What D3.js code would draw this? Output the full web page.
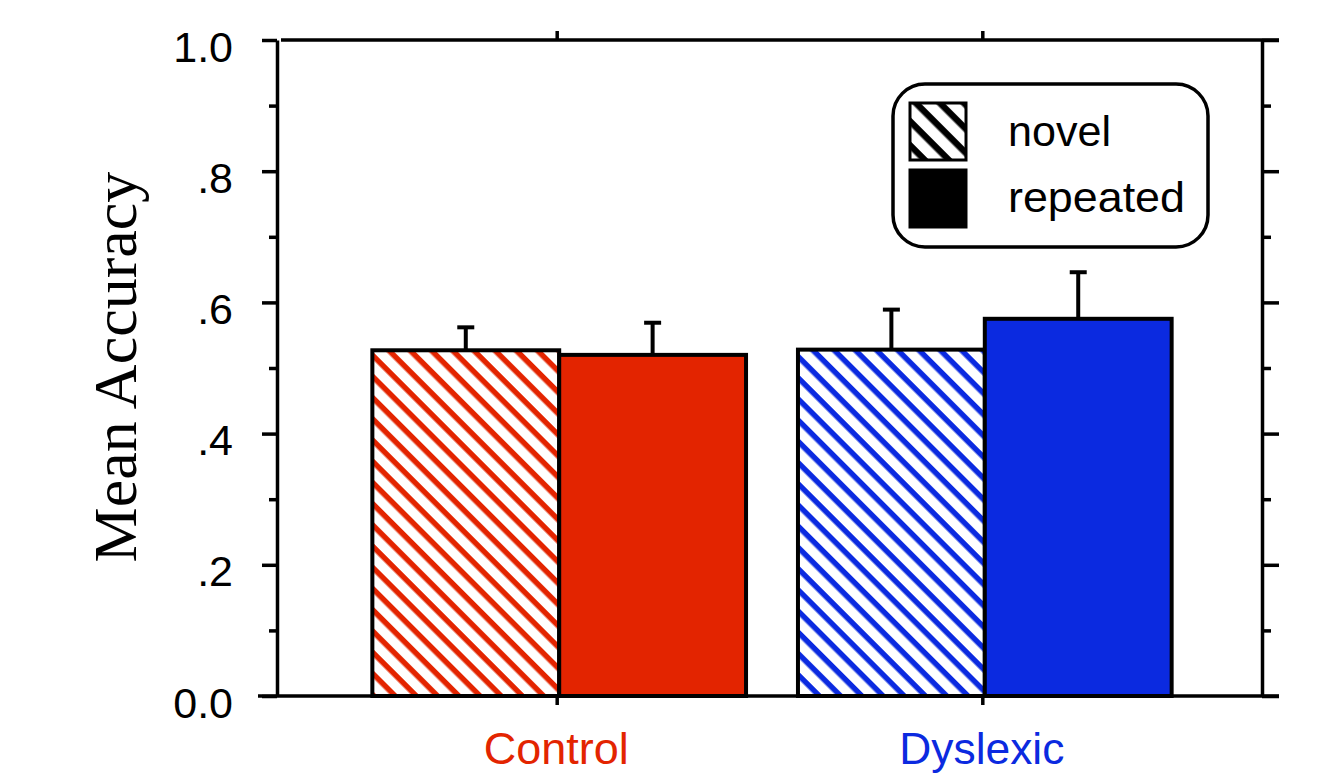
<!DOCTYPE html>
<html>
<head>
<meta charset="utf-8">
<script src="https://cdn.jsdelivr.net/npm/d3@7"></script>
<style>
  html, body { margin: 0; padding: 0; background: #fff; }
  svg { display: block; }
</style>
</head>
<body>
<svg id="chart" width="1327" height="773"></svg>
<script>
// Mean accuracy per group and condition, with standard errors (upper bars only)
const groups = ["Control", "Dyslexic"];
const conditions = ["novel", "repeated"];
const controlMeans = [0.527, 0.520];
const dyslexicMeans = [0.528, 0.575];
const controlErrors = [0.035, 0.049];
const dyslexicErrors = [0.061, 0.071];
const groupColors = ["#e32400", "#0b2ae0"];
const yTickValues = [0, 0.2, 0.4, 0.6, 0.8, 1.0];
const yTickLabels = ["0.0", ".2", ".4", ".6", ".8", "1.0"];
const yMinorValues = [0.1, 0.3, 0.5, 0.7, 0.9];

const meansByGroup = [controlMeans, dyslexicMeans];
const errorsByGroup = [controlErrors, dyslexicErrors];
const rows = [];
groups.forEach((g, gi) => {
  conditions.forEach((c, ci) => {
    rows.push({ group: g, condition: c, mean: meansByGroup[gi][ci], err: errorsByGroup[gi][ci], color: groupColors[gi], gi });
  });
});

const svg = d3.select("#chart");
const plotLeft = 277, plotRight = 1262, plotTop = 40, plotBottom = 696;
const sansFont = "'Liberation Sans', Arial, Helvetica, sans-serif";
const axisWidth = 3.5;

const y = d3.scaleLinear().domain([0, 1]).range([plotBottom, plotTop]);
const x = d3.scaleBand().domain(groups).range([plotLeft + 3, plotRight + 2]).paddingInner(0.122).paddingOuter(0.217);
const xSub = d3.scaleBand().domain(conditions).range([0, x.bandwidth()]);

// Diagonal hatch fills
const defs = svg.append("defs");
function hatch(id, color, period, width) {
  const p = defs.append("pattern")
    .attr("id", id)
    .attr("patternUnits", "userSpaceOnUse")
    .attr("width", period).attr("height", period)
    .attr("patternTransform", "rotate(45)");
  p.append("rect").attr("width", period).attr("height", period).attr("fill", "#fff");
  p.append("rect").attr("x", 0).attr("y", 0).attr("width", period).attr("height", width).attr("fill", color);
}
groupColors.forEach((c, i) => hatch("hatch" + i, c, 15, 5.5));
hatch("hatchLegend", "#000", 17, 6.5);

// Bars
const barG = svg.append("g");
barG.selectAll("rect.bar")
  .data(rows)
  .join("rect")
  .attr("class", "bar")
  .attr("x", d => x(d.group) + xSub(d.condition))
  .attr("y", d => y(d.mean))
  .attr("width", xSub.bandwidth())
  .attr("height", d => y(0) - y(d.mean))
  .attr("fill", d => d.condition === "novel" ? `url(#hatch${d.gi})` : d.color)
  .attr("stroke", "#000")
  .attr("stroke-width", 4);

// Error bars
const capHalf = 8.5;
const errG = svg.append("g").attr("stroke", "#000").attr("stroke-width", 4);
rows.forEach(d => {
  const cx = x(d.group) + xSub(d.condition) + xSub.bandwidth() / 2;
  errG.append("line").attr("x1", cx).attr("x2", cx).attr("y1", y(d.mean)).attr("y2", y(d.mean + d.err));
  errG.append("line").attr("x1", cx - capHalf).attr("x2", cx + capHalf).attr("y1", y(d.mean + d.err)).attr("y2", y(d.mean + d.err));
});

// Frame: left axis with outward ticks, mirrored on the right
const axisColor = "#000";
const yLeft = d3.axisLeft(y).tickValues(yTickValues).tickSize(15).tickSizeOuter(0)
  .tickFormat((d, i) => yTickLabels[i]);
const gl = svg.append("g").attr("transform", `translate(${plotLeft},0)`).call(yLeft);
gl.select(".domain").attr("stroke", axisColor).attr("stroke-width", axisWidth);
gl.selectAll(".tick line").attr("stroke", axisColor).attr("stroke-width", axisWidth);
gl.selectAll(".tick text")
  .attr("x", -44).attr("dy", "0.35em").attr("y", 6)
  .attr("font-family", sansFont).attr("font-size", 43).attr("fill", "#000");

const ylMinor = d3.axisLeft(y).tickValues(yMinorValues).tickSize(8).tickFormat("");
const glm = svg.append("g").attr("transform", `translate(${plotLeft},0)`).call(ylMinor);
glm.select(".domain").remove();
glm.selectAll(".tick line").attr("stroke", axisColor).attr("stroke-width", axisWidth);

const yRight = d3.axisRight(y).tickValues(yTickValues).tickSize(17).tickSizeOuter(0).tickFormat("");
const gr = svg.append("g").attr("transform", `translate(${plotRight},0)`).call(yRight);
gr.select(".domain").attr("stroke", axisColor).attr("stroke-width", axisWidth);
gr.selectAll(".tick line").attr("stroke", axisColor).attr("stroke-width", axisWidth);
const yrMinor = d3.axisRight(y).tickValues(yMinorValues).tickSize(9).tickFormat("");
const grm = svg.append("g").attr("transform", `translate(${plotRight},0)`).call(yrMinor);
grm.select(".domain").remove();
grm.selectAll(".tick line").attr("stroke", axisColor).attr("stroke-width", axisWidth);

// Top and bottom lines with category ticks
const xCenter = g => x(g) + x.bandwidth() / 2;
svg.append("line").attr("x1", plotLeft + 4).attr("x2", plotRight + 17).attr("y1", plotTop).attr("y2", plotTop)
  .attr("stroke", axisColor).attr("stroke-width", axisWidth);
svg.append("line").attr("x1", plotLeft - 19).attr("x2", plotRight + 17).attr("y1", plotBottom).attr("y2", plotBottom)
  .attr("stroke", axisColor).attr("stroke-width", axisWidth);
groups.forEach(g => {
  svg.append("line").attr("x1", xCenter(g) - 2).attr("x2", xCenter(g) - 2).attr("y1", plotTop).attr("y2", plotTop - 9)
    .attr("stroke", axisColor).attr("stroke-width", axisWidth);
  svg.append("line").attr("x1", xCenter(g) - 2).attr("x2", xCenter(g) - 2).attr("y1", plotBottom).attr("y2", plotBottom + 9)
    .attr("stroke", axisColor).attr("stroke-width", axisWidth);
});

// Group labels
const groupLabelWidths = [145, 165];
svg.append("g").selectAll("text")
  .data(groups)
  .join("text")
  .attr("x", g => xCenter(g) - 3)
  .attr("y", 764)
  .attr("text-anchor", "middle")
  .attr("font-family", sansFont)
  .attr("font-size", 44)
  .attr("textLength", (g, i) => groupLabelWidths[i])
  .attr("lengthAdjust", "spacingAndGlyphs")
  .attr("fill", (g, i) => groupColors[i])
  .text(g => g);

// Y axis title
svg.append("text")
  .attr("transform", `translate(136,${(167 + 567) / 2}) rotate(-90)`)
  .attr("text-anchor", "middle")
  .attr("font-family", "'Liberation Serif', 'Times New Roman', serif")
  .attr("font-size", 62)
  .attr("fill", "#000")
  .text("Mean Accuracy");

// Legend
const legend = svg.append("g");
legend.append("rect")
  .attr("x", 893).attr("y", 84).attr("width", 315).attr("height", 163)
  .attr("rx", 32).attr("ry", 32)
  .attr("fill", "#fff").attr("stroke", "#000").attr("stroke-width", axisWidth);
const legendFills = ["url(#hatchLegend)", "#000"];
const legendTextWidths = [103, 177];
conditions.forEach((c, i) => {
  legend.append("rect")
    .attr("x", 910).attr("y", 103 + i * 67).attr("width", 56).attr("height", 57)
    .attr("fill", legendFills[i]).attr("stroke", "#000").attr("stroke-width", 3);
  legend.append("text")
    .attr("x", 1008).attr("y", 146 + i * 66)
    .attr("font-family", sansFont).attr("font-size", 43).attr("fill", "#000")
    .attr("textLength", legendTextWidths[i])
    .attr("lengthAdjust", "spacingAndGlyphs")
    .text(c);
});
</script>
</body>
</html>
